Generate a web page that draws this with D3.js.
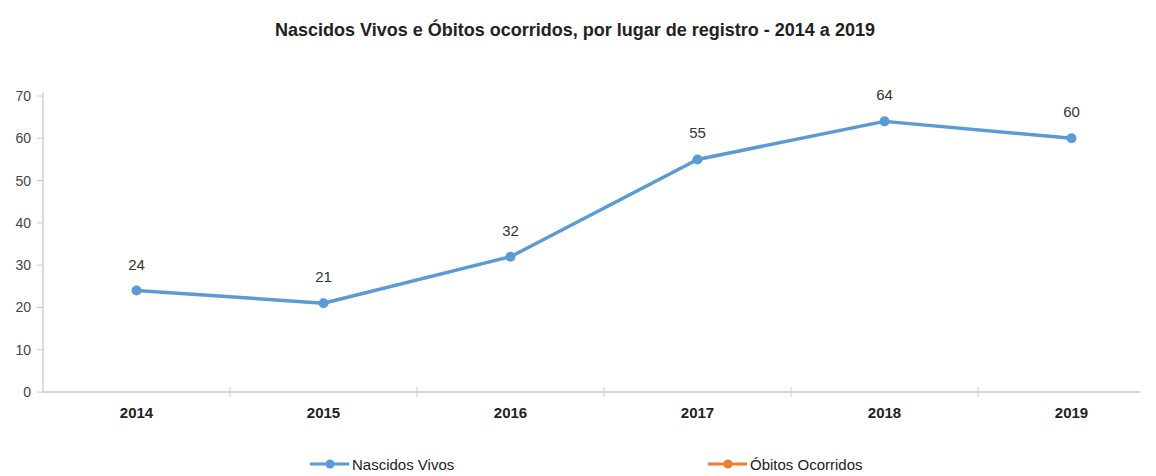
<!DOCTYPE html>
<html>
<head>
<meta charset="utf-8">
<script src="https://cdn.jsdelivr.net/npm/d3@7"></script>
<style>
  html, body { margin: 0; padding: 0; background: #fff; }
  svg { display: block; font-family: "Liberation Sans", Arial, sans-serif; }
</style>
</head>
<body>
<svg id="chart" width="1156" height="476"></svg>
<script>
// Anos e séries
const years = ["2014", "2015", "2016", "2017", "2018", "2019"];
const nascidosVivos = [24, 21, 32, 55, 64, 60];
const obitosOcorridos = []; // sem registros no período
const yTicks = [0, 10, 20, 30, 40, 50, 60, 70];
const seriesNames = ["Nascidos Vivos", "Óbitos Ocorridos"];
const seriesColors = ["#5b9bd5", "#ed7d31"];

const svg = d3.select("#chart");

const x = d3.scaleBand().domain(years).range([43, 1165]);
const y = d3.scaleLinear().domain([0, 70]).range([392, 96]);

// Título
svg.append("text")
  .attr("x", 575).attr("y", 36)
  .attr("text-anchor", "middle")
  .attr("font-size", 18).attr("font-weight", "bold").attr("fill", "#222")
  .text("Nascidos Vivos e Óbitos ocorridos, por lugar de registro - 2014 a 2019");

// Eixo Y
const yAxis = svg.append("g");
yAxis.append("line")
  .attr("x1", 43).attr("x2", 43).attr("y1", 92).attr("y2", 392)
  .attr("stroke", "#d0d0d0").attr("stroke-width", 1.5);
yAxis.selectAll("line.tick").data(yTicks).enter().append("line")
  .attr("class", "tick")
  .attr("x1", 37).attr("x2", 43)
  .attr("y1", d => y(d)).attr("y2", d => y(d))
  .attr("stroke", "#c8c8c8");
yAxis.selectAll("text").data(yTicks).enter().append("text")
  .attr("x", 31).attr("y", d => y(d) + 5)
  .attr("text-anchor", "end")
  .attr("font-size", 14).attr("fill", "#444")
  .text(d => d);

// Eixo X
const xAxis = svg.append("g");
xAxis.append("line")
  .attr("x1", 43).attr("x2", 1140).attr("y1", 392).attr("y2", 392)
  .attr("stroke", "#c8c8c8").attr("stroke-width", 1.5);
xAxis.selectAll("line.sep").data(years.slice(1)).enter().append("line")
  .attr("class", "sep")
  .attr("x1", d => x(d)).attr("x2", d => x(d))
  .attr("y1", 387).attr("y2", 397)
  .attr("stroke", "#d0d0d0");
xAxis.selectAll("text").data(years).enter().append("text")
  .attr("x", d => x(d) + x.bandwidth() / 2).attr("y", 418)
  .attr("text-anchor", "middle")
  .attr("font-size", 15).attr("font-weight", "bold").attr("fill", "#222")
  .text(d => d);

// Linha dos nascidos vivos
const pts = years.map((yr, i) => ({ yr, v: nascidosVivos[i] }));
const line = d3.line()
  .x(d => x(d.yr) + x.bandwidth() / 2)
  .y(d => y(d.v));

svg.append("path")
  .datum(pts)
  .attr("d", line)
  .attr("fill", "none")
  .attr("stroke", seriesColors[0])
  .attr("stroke-width", 3.5)
  .attr("stroke-linejoin", "round");

svg.selectAll("circle.pt").data(pts).enter().append("circle")
  .attr("class", "pt")
  .attr("cx", d => x(d.yr) + x.bandwidth() / 2)
  .attr("cy", d => y(d.v))
  .attr("r", 5)
  .attr("fill", seriesColors[0]);

svg.selectAll("text.lbl").data(pts).enter().append("text")
  .attr("class", "lbl")
  .attr("x", d => x(d.yr) + x.bandwidth() / 2)
  .attr("y", d => y(d.v) - 21)
  .attr("text-anchor", "middle")
  .attr("font-size", 15).attr("fill", "#333")
  .text(d => d.v);

// Série de óbitos (vazia)
svg.append("path")
  .datum(obitosOcorridos)
  .attr("d", d => d.length ? line(d) : null)
  .attr("fill", "none")
  .attr("stroke", seriesColors[1])
  .attr("stroke-width", 3.5);

// Legenda
const legendX = [310, 708];
const legend = svg.selectAll("g.leg").data(seriesNames).enter().append("g")
  .attr("class", "leg")
  .attr("transform", (d, i) => `translate(${legendX[i]},464)`);
legend.append("line")
  .attr("x1", 0).attr("x2", 39).attr("y1", 0).attr("y2", 0)
  .attr("stroke", (d, i) => seriesColors[i]).attr("stroke-width", 3);
legend.append("circle")
  .attr("cx", 20).attr("cy", 0).attr("r", 4.5)
  .attr("fill", (d, i) => seriesColors[i]);
legend.append("text")
  .attr("x", 42).attr("y", 5.5)
  .attr("font-size", 15).attr("fill", "#222")
  .text(d => d);
</script>
</body>
</html>
